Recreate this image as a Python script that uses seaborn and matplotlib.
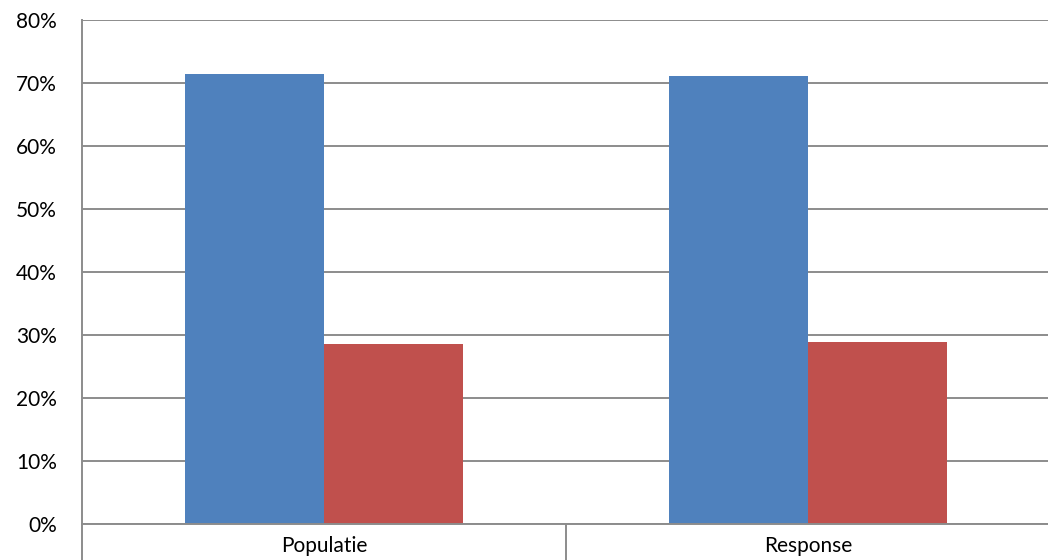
import pandas as pd
import seaborn as sns
import matplotlib.pyplot as plt
from matplotlib.ticker import PercentFormatter, FixedLocator

# data
categories = ['Populatie', 'Response']
series_names = ['Serie 1', 'Serie 2']
serie1 = [71.4, 71.1]
serie2 = [28.6, 28.9]
colors = ['#4F81BD', '#C0504D']

df = pd.DataFrame({
    'categorie': categories * 2,
    'serie': [series_names[0]] * 2 + [series_names[1]] * 2,
    'waarde': serie1 + serie2,
})

sns.set_theme(style='white')
plt.rcParams['font.family'] = ['Lato', 'DejaVu Sans']

fig = plt.figure(figsize=(10.48, 5.6), dpi=100)
ax = fig.add_axes([82 / 1048, 36 / 560, 968 / 1048, 504 / 560])

sns.barplot(data=df, x='categorie', y='waarde', hue='serie', order=categories,
            hue_order=series_names, palette=colors, width=0.575, gap=0,
            linewidth=0, saturation=1, legend=False, ax=ax)

ax.set_ylim(0, 80)
ax.set_xlim(-0.5, 1.5)
ax.set_yticks(range(0, 81, 10))
ax.yaxis.set_major_formatter(PercentFormatter(decimals=0))
ax.yaxis.grid(True, color='#8c8c8c', linewidth=1.4)
ax.set_axisbelow(True)

ax.xaxis.set_minor_locator(FixedLocator([-0.5, 0.5, 1.5]))
ax.tick_params(axis='x', which='minor', length=26, width=1.4, color='#8c8c8c',
               direction='out', bottom=True)
ax.tick_params(axis='x', which='major', length=0, pad=9, labelsize=15,
               labelcolor='black')
ax.tick_params(axis='y', length=0, pad=18, labelsize=15, labelcolor='black')

ax.set_xlabel('')
ax.set_ylabel('')
for side in ['top', 'right']:
    ax.spines[side].set_visible(False)
for side in ['left', 'bottom']:
    ax.spines[side].set_color('#8c8c8c')
    ax.spines[side].set_linewidth(1.4)

fig.savefig('out.png', dpi=100)
